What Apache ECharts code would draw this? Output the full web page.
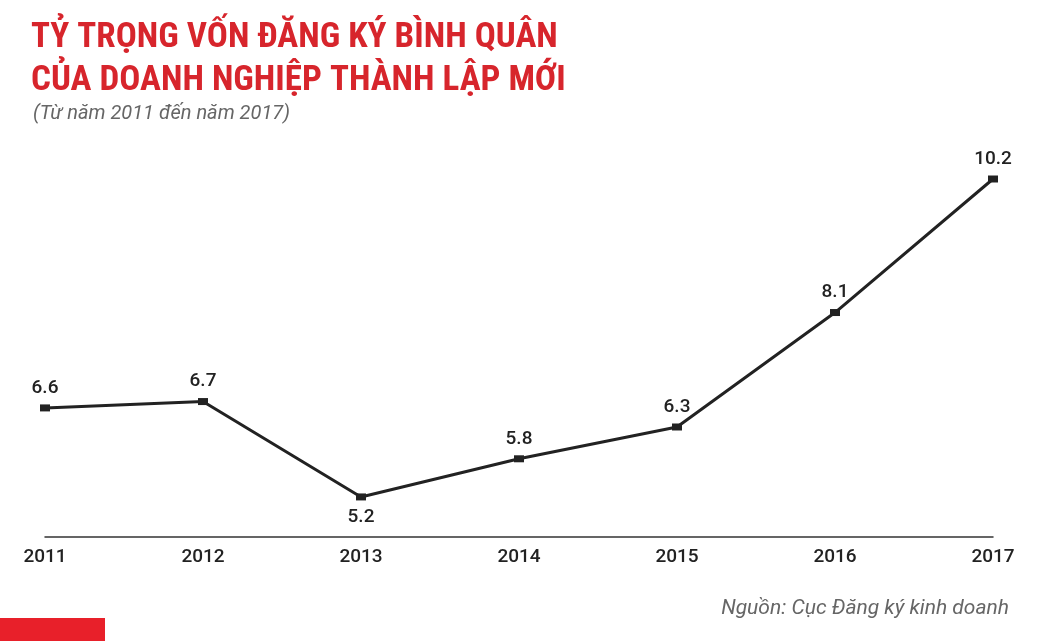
<!DOCTYPE html>
<html><head><meta charset="utf-8">
<script src="https://cdn.jsdelivr.net/npm/echarts@6/dist/echarts.min.js"></script>
<style>html,body{margin:0;padding:0;background:#fff}#c{width:1040px;height:641px}</style>
</head><body><div id="c"></div>
<script>
const years = ['2011','2012','2013','2014','2015','2016','2017'];
const values = [6.6, 6.7, 5.2, 5.8, 6.3, 8.1, 10.2];
const labelPos = ['top','top','bottom','top','top','top','top'];
const chart = echarts.init(document.getElementById('c'));
chart.setOption({
  backgroundColor:'#fff',
  animation:false,
  title:[
    {text:'TỶ TRỌNG VỐN ĐĂNG KÝ BÌNH QUÂN\nCỦA DOANH NGHIỆP THÀNH LẬP MỚI',left:26,top:12,
     textStyle:{color:'#d7252c',fontSize:35,fontWeight:'bold',fontFamily:'Roboto Condensed, Roboto, sans-serif',lineHeight:43}},
    {text:'(Từ năm 2011 đến năm 2017)',left:28,top:99,textStyle:{color:'#666',fontSize:20,fontStyle:'italic',fontWeight:'normal',fontFamily:'Roboto'}},
    {text:'Nguồn: Cục Đăng ký kinh doanh',right:26,top:593,textStyle:{color:'#666',fontSize:21,fontStyle:'italic',fontWeight:'normal',fontFamily:'Roboto'}}
  ],
  graphic:[{type:'rect',shape:{x:0,y:618,width:105,height:23},style:{fill:'#e8202a'}}],
  grid:{left:45,right:47,top:179,bottom:104},
  xAxis:{type:'category',data:years,boundaryGap:false,
    axisLine:{lineStyle:{color:'#333',width:1.5}},axisTick:{show:false},
    axisLabel:{color:'#222',fontSize:19,fontWeight:500,fontFamily:'Roboto',margin:11}},
  yAxis:{type:'value',min:4.57,max:10.2,show:false,splitLine:{show:false}},
  series:[{type:'line',data:values.map((v,i)=>({value:v,label:{position:labelPos[i]}})),
    lineStyle:{color:'#222',width:3},itemStyle:{color:'#222'},
    symbol:'rect',symbolSize:[10,7],
    label:{show:true,color:'#222',fontSize:19,fontWeight:500,fontFamily:'Roboto',distance:7}}]
});
</script></body></html>
